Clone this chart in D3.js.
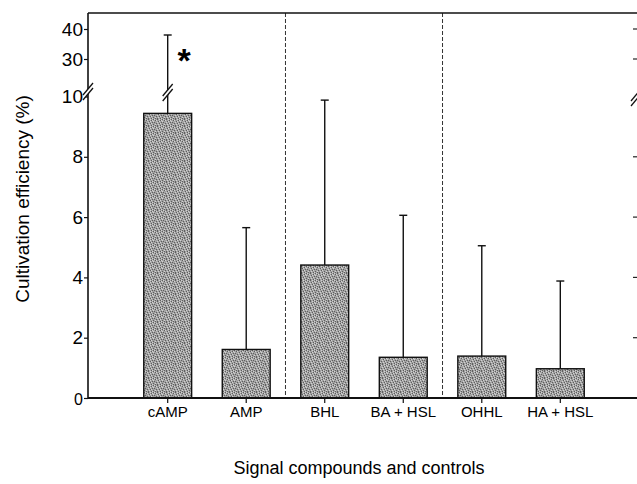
<!DOCTYPE html>
<html>
<head>
<meta charset="utf-8">
<script src="https://cdn.jsdelivr.net/npm/d3@7"></script>
<style>
  html, body { margin: 0; padding: 0; background: #fff; }
  svg { display: block; font-family: "Liberation Sans", Arial, sans-serif; }
</style>
</head>
<body>
<svg id="chart" width="637" height="484"></svg>
<script>
// ---- data ----
const categories = ["cAMP", "AMP", "BHL", "BA + HSL", "OHHL", "HA + HSL"];
const means      = [9.44, 1.61, 4.41, 1.35, 1.39, 0.97];
const errorTops  = [38, 5.65, 9.88, 6.06, 5.05, 3.88];
const lowerTicks = [0, 2, 4, 6, 8, 10];
const upperTicks = [30, 40];
const groupBreaksAfter = ["AMP", "BA + HSL"];
const xTitle = "Signal compounds and controls";
const yTitle = "Cultivation efficiency (%)";

// ---- layout ----
const svg = d3.select("#chart");
const plotL = 88, plotT = 13, plotB = 398;
const breakY = 91;

const x = d3.scaleBand().domain(categories).range([plotL, 640])
  .paddingInner(0.39).paddingOuter(0.71);
const yLow = d3.scaleLinear().domain([0, 10]).range([plotB, 96.5]);
const yUp = d3.scaleLinear().domain([20, 45]).range([89, 14]);
const yAny = v => v > 10 ? yUp(v) : yLow(v);

// stipple pattern for bars
const defs = svg.append("defs");
const pat = defs.append("pattern").attr("id", "stipple")
  .attr("patternUnits", "userSpaceOnUse").attr("width", 9).attr("height", 7);
pat.append("rect").attr("width", 9).attr("height", 7).attr("fill", "#a2a2a2");
const darkDots = [[0,0],[4,0],[7,1],[2,1],[5,2],[8,3],[1,3],[3,4],[6,4],[0,5],[4,6],[7,6],[2,6]];
const lightDots = [[1,0],[6,0],[3,1],[8,1],[0,2],[4,3],[7,4],[2,5],[5,5],[8,6],[6,2]];
darkDots.forEach(([a,b]) => pat.append("rect").attr("x", a).attr("y", b).attr("width", 1).attr("height", 1).attr("fill", "#5e5e5e"));
lightDots.forEach(([a,b]) => pat.append("rect").attr("x", a).attr("y", b).attr("width", 1).attr("height", 1).attr("fill", "#d2d2d2"));

function drawBreak(cx, cy) {
  const w = 5, h = 6, gap = 5;
  svg.append("polygon")
    .attr("points", `${cx - w},${cy + h - gap/2 + 1.5} ${cx + w},${cy - h - gap/2 + 1.5} ${cx + w},${cy - h + gap/2 + 1.5} ${cx - w},${cy + h + gap/2 + 1.5}`)
    .attr("fill", "#fff");
  [-gap / 2 + 1.5, gap / 2 + 1.5].forEach(o => {
    svg.append("line").attr("x1", cx - w).attr("y1", cy + h + o).attr("x2", cx + w).attr("y2", cy - h + o)
      .attr("stroke", "#111").attr("stroke-width", 1.3);
  });
}

// group separators (dashed)
groupBreaksAfter.forEach(c => {
  const i = categories.indexOf(c);
  const xm = (x(categories[i]) + x.bandwidth() + x(categories[i + 1])) / 2;
  svg.append("line").attr("x1", xm).attr("x2", xm).attr("y1", plotT).attr("y2", plotB)
    .attr("stroke", "#333").attr("stroke-width", 1).attr("stroke-dasharray", "4,2");
});

// bars
svg.selectAll("rect.bar").data(categories).join("rect").attr("class", "bar")
  .attr("x", d => x(d)).attr("width", x.bandwidth())
  .attr("y", (d, i) => yLow(means[i]))
  .attr("height", (d, i) => yLow(0) - yLow(means[i]))
  .attr("fill", "url(#stipple)").attr("stroke", "#111").attr("stroke-width", 1.4);

// error bars
categories.forEach((c, i) => {
  const cx = x(c) + x.bandwidth() / 2;
  const yt = yAny(errorTops[i]);
  svg.append("line").attr("x1", cx).attr("x2", cx).attr("y1", yLow(means[i])).attr("y2", yt)
    .attr("stroke", "#111").attr("stroke-width", 1.4);
  svg.append("line").attr("x1", cx - 4).attr("x2", cx + 4).attr("y1", yt).attr("y2", yt)
    .attr("stroke", "#111").attr("stroke-width", 1.4);
  if (errorTops[i] > 10) drawBreak(cx, breakY);
});

// top frame line
svg.append("line").attr("x1", plotL).attr("x2", 637).attr("y1", plotT).attr("y2", plotT)
  .attr("stroke", "#111").attr("stroke-width", 1.6);

// left axis
const gL = svg.append("g").attr("transform", `translate(${plotL},0)`);
gL.call(d3.axisLeft(yLow).tickValues(lowerTicks).tickSize(4).tickFormat(d3.format("d")));
gL.append("g").call(d3.axisLeft(yUp).tickValues(upperTicks).tickSize(4).tickFormat(d3.format("d")));
gL.selectAll(".domain").remove();
gL.selectAll("line").attr("stroke", "#111").attr("stroke-width", 1.2);
gL.selectAll("text").attr("fill", "#000").attr("font-size", 19)
  .attr("font-family", "Liberation Sans, Arial, sans-serif").attr("x", -5);
gL.selectAll(".tick").filter(d => d === 0).select("text").attr("font-size", 16).attr("dy", "0.42em");
svg.append("line").attr("x1", plotL).attr("x2", plotL).attr("y1", plotT).attr("y2", plotB)
  .attr("stroke", "#111").attr("stroke-width", 1.6);
drawBreak(plotL, breakY - 1);

// right axis ticks (axis line itself lies just outside the view)
const rightTickYs = [...lowerTicks.slice(1, 5).map(v => yLow(v)), ...upperTicks.map(v => yUp(v))];
rightTickYs.forEach(yy => {
  svg.append("line").attr("x1", 633).attr("x2", 637).attr("y1", yy).attr("y2", yy)
    .attr("stroke", "#222").attr("stroke-width", 1.2);
});
drawBreak(636, breakY + 5);

// bottom axis
const gB = svg.append("g").attr("transform", `translate(0,${plotB})`);
gB.call(d3.axisBottom(x).tickSize(5).tickPadding(3));
gB.select(".domain").remove();
gB.selectAll("line").attr("stroke", "#111").attr("stroke-width", 1.2);
gB.selectAll("text").attr("fill", "#000").attr("font-size", 15)
  .attr("font-family", "Liberation Sans, Arial, sans-serif");
svg.append("line").attr("x1", plotL).attr("x2", 637).attr("y1", plotB).attr("y2", plotB)
  .attr("stroke", "#111").attr("stroke-width", 1.8);

// titles
svg.append("text").attr("x", 359).attr("y", 474).attr("text-anchor", "middle")
  .attr("font-size", 18).attr("fill", "#000").text(xTitle);
svg.append("text").attr("transform", "translate(29,199) rotate(-90)")
  .attr("text-anchor", "middle").attr("font-size", 19).attr("fill", "#000").text(yTitle);

// significance marker
svg.append("text").attr("x", 184).attr("y", 72).attr("text-anchor", "middle")
  .attr("font-size", 34).attr("font-weight", "bold").attr("fill", "#000").text("*");
</script>
</body>
</html>
